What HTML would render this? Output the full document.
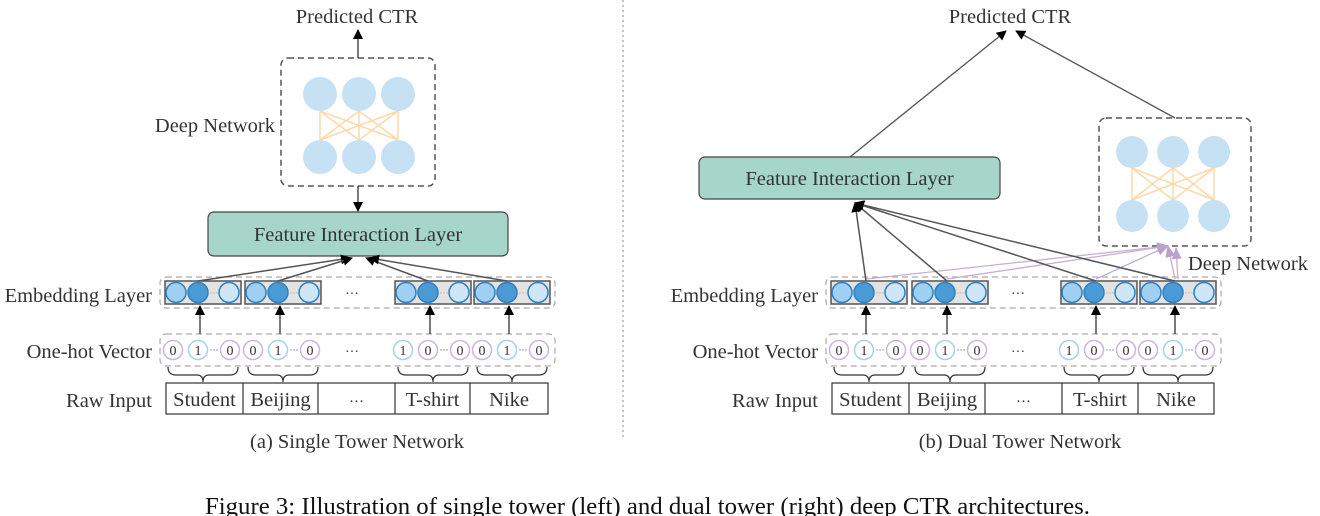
<!DOCTYPE html>
<html><head><meta charset="utf-8"><style>
html,body{margin:0;padding:0;background:#fff;width:1320px;height:516px;overflow:hidden}
svg text{font-family:"Liberation Serif",serif;fill:#333}
</style></head><body>
<svg id="s" width="1320" height="516" viewBox="0 0 1320 516" xmlns="http://www.w3.org/2000/svg">
<defs>
<marker id="ab" markerWidth="10" markerHeight="10" refX="9" refY="5" orient="auto" markerUnits="userSpaceOnUse"><path d="M0,0 L10,5 L0,10 z" fill="#000"/></marker>
<marker id="ap" markerWidth="12" markerHeight="10" refX="11" refY="5" orient="auto" markerUnits="userSpaceOnUse"><path d="M0,0 L12,5 L0,10 z" fill="#b9a3cc"/></marker>
</defs>
<line x1="623" y1="0" x2="623" y2="440" stroke="#888" stroke-dasharray="2,3"/>
<text x="357" y="23" font-size="20.5" text-anchor="middle">Predicted CTR</text>
<text x="1010" y="23" font-size="20.5" text-anchor="middle">Predicted CTR</text>
<text x="357" y="448" font-size="20.5" text-anchor="middle">(a) Single Tower Network</text>
<text x="1020" y="448" font-size="20.5" text-anchor="middle">(b) Dual Tower Network</text>
<text x="205" y="514" font-size="24.5" textLength="885" lengthAdjust="spacingAndGlyphs" style="fill:#111">Figure 3: Illustration of single tower (left) and dual tower (right) deep CTR architectures.</text>
<text x="275" y="132" font-size="20.5" text-anchor="end">Deep Network</text>
<text x="1308" y="270" font-size="20.5" text-anchor="end">Deep Network</text>
<g id="g"></g>
</svg>
<script>
const g=document.getElementById('g');let h='';
function add(s){h+=s;}
function dn(x,y,w,hh,cx,cy,dx,dy,r){
 add(`<rect x="${x}" y="${y}" width="${w}" height="${hh}" rx="7" fill="#fff" stroke="#555" stroke-width="1.5" stroke-dasharray="6,4"/>`);
 for(let i=0;i<3;i++)for(let j=0;j<3;j++)add(`<line x1="${cx+i*dx}" y1="${cy+r}" x2="${cx+j*dx}" y2="${cy+dy-r}" stroke="#fbd9a8" stroke-width="1.5"/>`);
 for(let i=0;i<3;i++){add(`<circle cx="${cx+i*dx}" cy="${cy}" r="${r}" fill="#c6e1f4"/><circle cx="${cx+i*dx}" cy="${cy+dy}" r="${r}" fill="#c6e1f4"/>`);}
}
function fil(x,y,w,hh){add(`<rect x="${x}" y="${y}" width="${w}" height="${hh}" rx="6" fill="#a6d5c9" stroke="#444" stroke-width="1.2"/><text x="${x+w/2}" y="${y+hh/2+7}" font-size="20.5" text-anchor="middle">Feature Interaction Layer</text>`);}
function lower(L,groups,rawx){
 add(`<text x="${L-8}" y="302" font-size="20.5" text-anchor="end">Embedding Layer</text>`);
 add(`<text x="${L-8}" y="358" font-size="20.5" text-anchor="end">One-hot Vector</text>`);
 add(`<text x="${L-8}" y="407" font-size="20.5" text-anchor="end">Raw Input</text>`);
 add(`<rect x="${L}" y="277" width="395" height="31" rx="6" fill="none" stroke="#aaa" stroke-width="1.2" stroke-dasharray="6,4"/>`);
 add(`<rect x="${L}" y="334" width="395" height="32" rx="6" fill="none" stroke="#aaa" stroke-width="1.2" stroke-dasharray="6,4"/>`);
 add(`<text x="${L+192}" y="298" font-size="14" text-anchor="middle">···</text><text x="${L+192}" y="356" font-size="14" text-anchor="middle">···</text>`);
 groups.forEach((gx,k)=>{
  add(`<rect x="${gx}" y="281" width="76" height="23" fill="#e3e3e3" stroke="#555" stroke-width="1.5"/>`);
  add(`<circle cx="${gx+11}" cy="292.5" r="10" fill="#9fd0f1" stroke="#2f7fc2" stroke-width="1.5"/>`);
  add(`<circle cx="${gx+33}" cy="292.5" r="10" fill="#4a9bd5" stroke="#2f7fc2" stroke-width="1.5"/>`);
  add(`<text x="${gx+49}" y="296" font-size="9" text-anchor="middle" style="fill:#999">···</text>`);
  add(`<circle cx="${gx+64}" cy="292.5" r="10" fill="#cfe6f8" stroke="#2f7fc2" stroke-width="1.5"/>`);
  add(`<line x1="${gx+35}" y1="334" x2="${gx+35}" y2="306" stroke="#333" stroke-width="1.3" marker-end="url(#ab)"/>`);
  const v=k==2?['1','0','0']:['0','1','0'];const xs=[gx+8,gx+33,gx+65];
  v.forEach((t,i)=>{const c=t=='1'?'#a9d0ee':'#cdb6db';
   add(`<circle cx="${xs[i]}" cy="350" r="9.5" fill="#fff" stroke="${c}" stroke-width="1.5"/><text x="${xs[i]}" y="355" font-size="14" text-anchor="middle">${t}</text>`);});
  add(`<text x="${gx+49}" y="353" font-size="9" text-anchor="middle">···</text>`);
  const a=gx+3,b=gx+73,m=gx+38;
  add(`<path d="M${a},367 q0,8 8,8 L${m-6},375 q6,0 6,7 q0,-7 6,-7 L${b-8},375 q8,0 8,-8" fill="none" stroke="#333" stroke-width="1.2"/>`);
 });
 add(`<rect x="${rawx[0]}" y="383" width="${rawx[5]-rawx[0]}" height="31" fill="#fff" stroke="#333" stroke-width="1.2"/>`);
 for(let i=1;i<5;i++)add(`<line x1="${rawx[i]}" y1="383" x2="${rawx[i]}" y2="414" stroke="#333" stroke-width="1.2"/>`);
 ['Student','Beijing','···','T-shirt','Nike'].forEach((t,i)=>add(`<text x="${(rawx[i]+rawx[i+1])/2}" y="406" font-size="${i==2?15:20.5}" text-anchor="middle">${t}</text>`));
}
dn(281,58,154,128,320,94,39,63,17);
add(`<line x1="358" y1="58" x2="358" y2="30" stroke="#333" stroke-width="1.3" marker-end="url(#ab)"/>`);
add(`<line x1="358" y1="186" x2="358" y2="211" stroke="#333" stroke-width="1.3" marker-end="url(#ab)"/>`);
fil(208,212,300,44);
const GL=[165,245,395,474];
lower(160,GL,[166,243,318,395,470,548]);
[[GL[0]+33,350],[GL[1]+33,352],[GL[2]+33,366],[GL[3]+33,370]].forEach(([x,t])=>add(`<line x1="${x}" y1="281" x2="${t}" y2="258" stroke="#555" stroke-width="1.5" marker-end="url(#ab)"/>`));
dn(1099,118,152,128,1132,152,41,64,16);
fil(699,157,301,42);
add(`<line x1="850" y1="157" x2="1006" y2="31" stroke="#555" stroke-width="1.3" marker-end="url(#ab)"/>`);
add(`<line x1="1175" y1="118" x2="1016" y2="31" stroke="#555" stroke-width="1.3" marker-end="url(#ab)"/>`);
const GR=[831,912,1061,1140];
lower(826,GR,[832,909,985,1062,1138,1214]);
GR.forEach(x=>add(`<line x1="${x+35}" y1="279" x2="1168" y2="246" stroke="#c4b0d6" stroke-width="1.3" marker-end="url(#ap)"/>`));
add(`<line x1="1178" y1="279" x2="1176" y2="248" stroke="#c4b0d6" stroke-width="1.3" marker-end="url(#ap)"/>`);
GR.forEach(x=>add(`<line x1="${x+35}" y1="281" x2="855" y2="203" stroke="#555" stroke-width="1.5" marker-end="url(#ab)"/>`));
g.innerHTML=h;
</script>
</body></html>
